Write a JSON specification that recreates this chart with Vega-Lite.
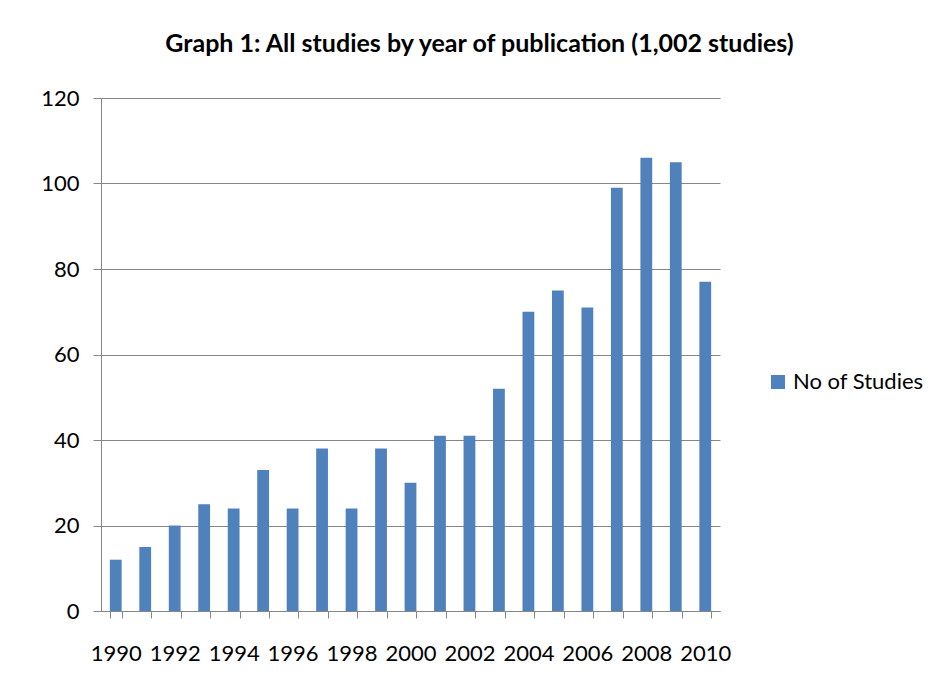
{
  "$schema": "https://vega.github.io/schema/vega-lite/v6.json",
  "width": 619,
  "height": 513,
  "autosize": "none",
  "padding": {"left": 101, "top": 98, "right": 221, "bottom": 79},
  "background": "white",
  "title": {
    "text": "Graph 1: All studies by year of publication (1,002 studies)",
    "font": "Lato",
    "fontSize": 25,
    "fontWeight": "bold",
    "color": "black",
    "anchor": "middle",
    "dx": 69,
    "offset": 30
  },
  "data": {
    "values": [
      {"year": 1990, "studies": 12},
      {"year": 1991, "studies": 15},
      {"year": 1992, "studies": 20},
      {"year": 1993, "studies": 25},
      {"year": 1994, "studies": 24},
      {"year": 1995, "studies": 33},
      {"year": 1996, "studies": 24},
      {"year": 1997, "studies": 38},
      {"year": 1998, "studies": 24},
      {"year": 1999, "studies": 38},
      {"year": 2000, "studies": 30},
      {"year": 2001, "studies": 41},
      {"year": 2002, "studies": 41},
      {"year": 2003, "studies": 52},
      {"year": 2004, "studies": 70},
      {"year": 2005, "studies": 75},
      {"year": 2006, "studies": 71},
      {"year": 2007, "studies": 99},
      {"year": 2008, "studies": 106},
      {"year": 2009, "studies": 105},
      {"year": 2010, "studies": 77}
    ]
  },
  "mark": {"type": "bar"},
  "encoding": {
    "x": {
      "field": "year",
      "type": "ordinal",
      "scale": {"paddingInner": 0.6, "paddingOuter": 0.3},
      "axis": {
        "title": null,
        "labelAngle": 0,
        "labelExpr": "datum.value % 2 == 0 ? datum.label : ''",
        "labelOverlap": false,
        "tickBand": "extent",
        "tickSize": 7,
        "tickColor": "#868686",
        "domainColor": "#868686",
        "labelPadding": 25,
        "labelFont": "Lato",
        "labelFontSize": 22,
        "labelColor": "black",
        "grid": false
      }
    },
    "y": {
      "field": "studies",
      "type": "quantitative",
      "scale": {"domain": [0, 120]},
      "axis": {
        "title": null,
        "values": [0, 20, 40, 60, 80, 100, 120],
        "grid": true,
        "gridColor": "#868686",
        "domainColor": "#868686",
        "tickColor": "#868686",
        "tickSize": 8,
        "labelPadding": 14,
        "labelFont": "Lato",
        "labelFontSize": 22,
        "labelColor": "black"
      }
    },
    "color": {
      "datum": "No of Studies",
      "type": "nominal",
      "scale": {"range": ["#4F81BD"]},
      "legend": {
        "title": null,
        "orient": "none",
        "legendX": 666,
        "legendY": 273,
        "symbolType": "square",
        "symbolSize": 196,
        "symbolStrokeWidth": 0,
        "labelFont": "Lato",
        "labelFontSize": 22,
        "labelColor": "black"
      }
    }
  },
  "config": {"view": {"stroke": null}}
}
